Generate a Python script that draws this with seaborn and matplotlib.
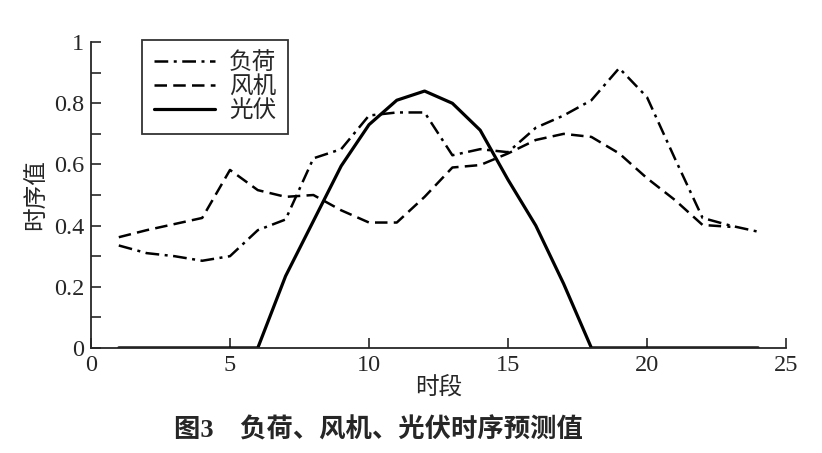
import numpy as np
import pandas as pd
import seaborn as sns
import matplotlib.pyplot as plt
from matplotlib.ticker import MultipleLocator, FormatStrFormatter

hours_load = list(range(1, 25))
load = [0.335, 0.31, 0.30, 0.285, 0.30, 0.385, 0.42, 0.62, 0.65, 0.76,
        0.77, 0.77, 0.63, 0.65, 0.64, 0.72, 0.76, 0.81, 0.915, 0.82,
        0.62, 0.425, 0.40, 0.38]

hours_wind = list(range(1, 24))
wind = [0.362, 0.385, 0.405, 0.425, 0.582, 0.516, 0.494, 0.50, 0.45, 0.41,
        0.41, 0.494, 0.59, 0.598, 0.636, 0.68, 0.70, 0.69, 0.636, 0.555,
        0.484, 0.402, 0.396]

hours_pv = list(range(1, 25))
pv = [0, 0, 0, 0, 0, 0, 0.235, 0.415, 0.595, 0.73,
      0.81, 0.84, 0.80, 0.712, 0.55, 0.40, 0.21, 0, 0, 0,
      0, 0, 0, 0]

names = ['负荷', '风机', '光伏']

df = pd.concat([
    pd.DataFrame({'时段': hours_load, '值': load, '类型': names[0]}),
    pd.DataFrame({'时段': hours_wind, '值': wind, '类型': names[1]}),
    pd.DataFrame({'时段': hours_pv, '值': pv, '类型': names[2]}),
], ignore_index=True)

sns.set_style('ticks')
plt.rcParams['font.family'] = ['Liberation Serif', 'Noto Sans CJK SC']
plt.rcParams['axes.linewidth'] = 1.3

fig = plt.figure(figsize=(8.22, 4.53), dpi=100)
ax = fig.add_axes([0.1107, 0.232, 0.8455, 0.675])

styles = {'负荷': (0, (5.5, 2.2, 1.2, 2.2)), '风机': (0, (5, 2.5)), '光伏': '-'}
widths = {'负荷': 1.8, '风机': 1.8, '光伏': 2.3}
for n in names:
    sns.lineplot(data=df[df['类型'] == n], x='时段', y='值', ax=ax,
                 color='black', linestyle=styles[n], linewidth=widths[n],
                 label=n)

ax.set_xlim(0, 25)
ax.set_ylim(0, 1)
ax.xaxis.set_major_locator(MultipleLocator(5))
ax.yaxis.set_major_locator(MultipleLocator(0.2))
ax.yaxis.set_minor_locator(MultipleLocator(0.1))
ax.yaxis.set_major_formatter(FormatStrFormatter('%g'))
ax.tick_params(axis='both', which='both', direction='in', length=7, width=1.2,
               labelsize=17.5, pad=5)
sns.despine(ax=ax)

ax.set_xlabel('时段', fontsize=17, labelpad=0)
ax.set_ylabel('时序值', fontsize=17, labelpad=4)

leg = ax.legend(loc='upper left', bbox_to_anchor=(0.073, 1.007), fontsize=17,
                frameon=True, fancybox=False, edgecolor='black',
                handlelength=2.6, handletextpad=0.6, labelspacing=0.1,
                borderpad=0.5, borderaxespad=0)
leg.get_frame().set_linewidth(1.3)

fig.text(0.46, 0.05, '图3    负荷、风机、光伏时序预测值', ha='center', va='center',
         fontsize=19, fontweight='bold')

fig.savefig('out.png', dpi=100)
